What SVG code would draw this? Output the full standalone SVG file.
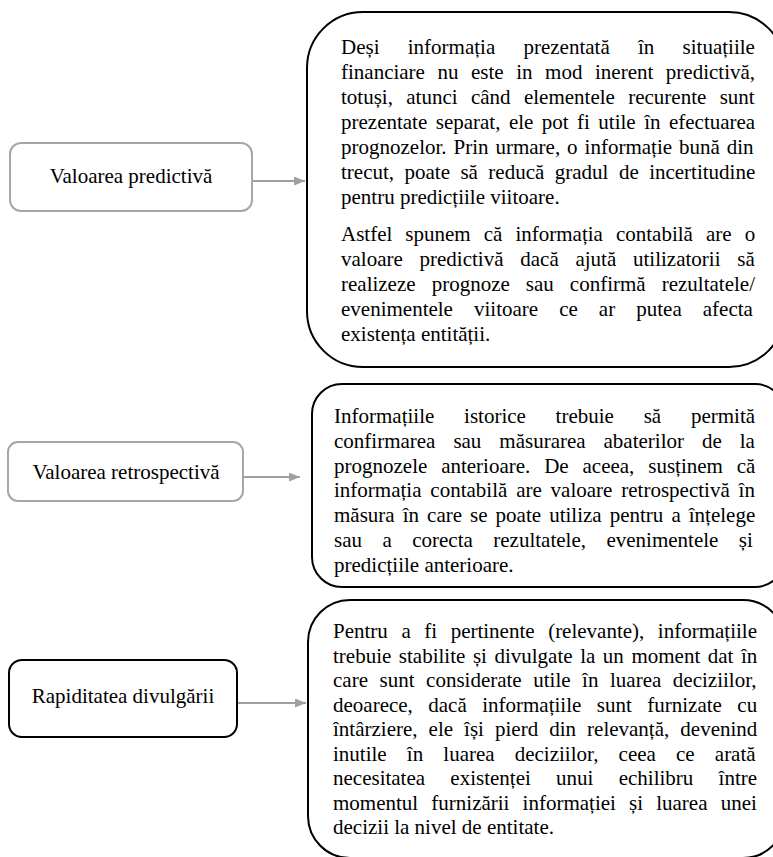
<svg xmlns="http://www.w3.org/2000/svg" width="773" height="857" viewBox="0 0 773 857">
<style>
text{font-family:"Liberation Serif","Times New Roman",serif;font-size:21px;fill:#000}
.lbl{text-anchor:middle}
.big{fill:#fff;stroke:#000;stroke-width:2}
.gray{fill:#fff;stroke:#a6a6a6;stroke-width:2}
.dark{fill:#fff;stroke:#000;stroke-width:2}
.conn{stroke:#a0a0a0;stroke-width:2;fill:none}
</style>
<defs>
<marker id="ah" markerUnits="userSpaceOnUse" markerWidth="12" markerHeight="10" refX="11" refY="4.5" orient="auto">
<path d="M0,0 L11,4.5 L0,9 z" fill="#a0a0a0"/>
</marker>
</defs>
<rect width="773" height="857" fill="#fff"/>

<g id="label-predictiva">
<rect class="gray" x="10" y="143" width="242" height="68" rx="11"/>
<text class="lbl" x="131" y="183">Valoarea predictivă</text>
</g>
<g id="label-retrospectiva">
<rect class="gray" x="8" y="442" width="235" height="59" rx="10"/>
<text class="lbl" x="126" y="479">Valoarea retrospectivă</text>
</g>
<g id="label-rapiditatea">
<rect class="dark" x="9" y="660" width="228" height="77" rx="13"/>
<text class="lbl" x="123" y="703">Rapiditatea divulgării</text>
</g>

<g id="desc-predictiva">
<rect class="big" x="307" y="12" width="478" height="355" rx="56"/>
<text x="341" y="54" word-spacing="23">Deși informația prezentată în situațiile</text>
<text x="341" y="79" word-spacing="7.3">financiare nu este in mod inerent predictivă,</text>
<text x="341" y="104" word-spacing="8.1">totuși, atunci când elementele recurente sunt</text>
<text x="341" y="129" word-spacing="3.2">prezentate separat, ele pot fi utile în efectuarea</text>
<text x="341" y="154" word-spacing="1.7">prognozelor. Prin urmare, o informație bună din</text>
<text x="341" y="179" word-spacing="5.2">trecut, poate să reducă gradul de incertitudine</text>
<text x="341" y="204">pentru predicțiile viitoare.</text>
<text x="341" y="241" word-spacing="7.8">Astfel spunem că informația contabilă are o</text>
<text x="341" y="266" word-spacing="11.5">valoare predictivă dacă ajută utilizatorii să</text>
<text x="341" y="291" word-spacing="10.8">realizeze prognoze sau confirmă rezultatele/</text>
<text x="341" y="316" word-spacing="15.8">evenimentele viitoare ce ar putea afecta</text>
<text x="341" y="341">existența entității.</text>
</g>

<g id="desc-retrospectiva">
<rect class="big" x="312" y="384" width="473" height="203" rx="30"/>
<text x="334" y="423" word-spacing="24.5">Informațiile istorice trebuie să permită</text>
<text x="334" y="448" word-spacing="12.7">confirmarea sau măsurarea abaterilor de la</text>
<text x="334" y="473" word-spacing="8.6">prognozele anterioare. De aceea, susținem că</text>
<text x="334" y="497" word-spacing="3.6">informația contabilă are valoare retrospectivă în</text>
<text x="334" y="522" word-spacing="2.8">măsura în care se poate utiliza pentru a înțelege</text>
<text x="334" y="547" word-spacing="15.2">sau a corecta rezultatele, evenimentele și</text>
<text x="334" y="572">predicțiile anterioare.</text>
</g>

<g id="desc-rapiditatea">
<rect class="big" x="308" y="600" width="477" height="258" rx="42"/>
<text x="333" y="638" word-spacing="8.3">Pentru a fi pertinente (relevante), informațiile</text>
<text x="333" y="662.5" word-spacing="2.3">trebuie stabilite și divulgate la un moment dat în</text>
<text x="333" y="687" word-spacing="6.3">care sunt considerate utile în luarea deciziilor,</text>
<text x="333" y="711.5" word-spacing="10.2">deoarece, dacă informațiile sunt furnizate cu</text>
<text x="333" y="736" word-spacing="5.8">întârziere, ele își pierd din relevanță, devenind</text>
<text x="333" y="760.5" word-spacing="14.9">inutile în luarea deciziilor, ceea ce arată</text>
<text x="333" y="785" word-spacing="20">necesitatea existenței unui echilibru între</text>
<text x="333" y="809.5" word-spacing="7.9">momentul furnizării informației și luarea unei</text>
<text x="333" y="834">decizii la nivel de entitate.</text>
</g>

<g id="connectors">
<line class="conn" x1="253" y1="181" x2="305" y2="181" marker-end="url(#ah)"/>
<line class="conn" x1="244" y1="477" x2="300" y2="477" marker-end="url(#ah)"/>
<line class="conn" x1="238" y1="703" x2="306" y2="703" marker-end="url(#ah)"/>
</g>
</svg>
